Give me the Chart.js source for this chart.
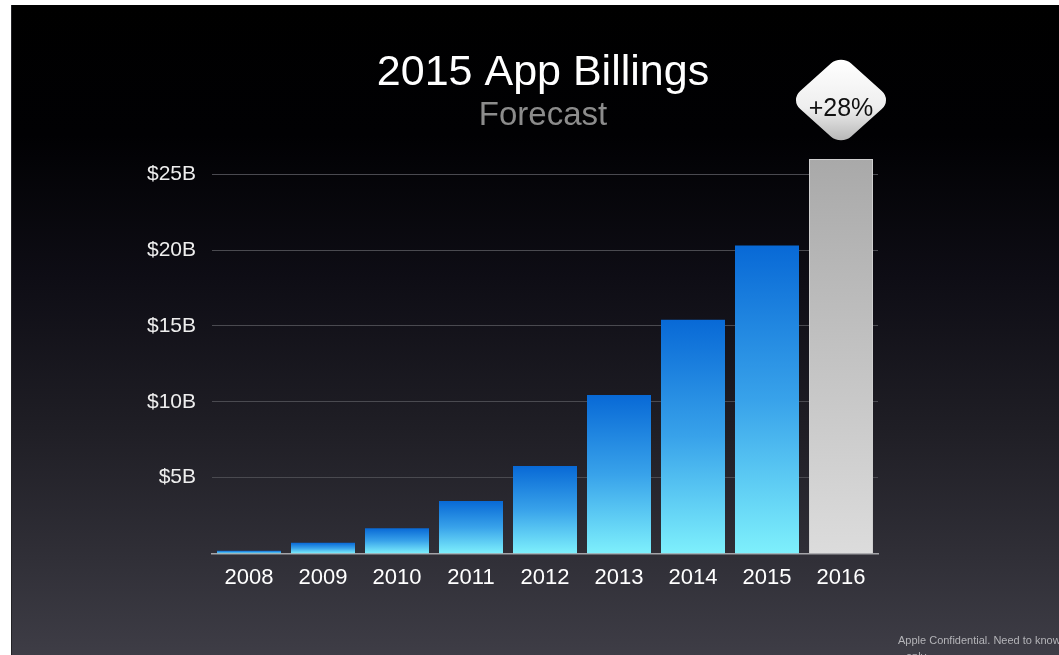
<!DOCTYPE html>
<html>
<head>
<meta charset="utf-8">
<title>2015 App Billings</title>
<script src="https://cdn.jsdelivr.net/npm/chart.js@4.4.0/dist/chart.umd.min.js"></script>
<style>
  html, body { margin: 0; padding: 0; background: #fff; overflow: hidden; }
  #slide {
    position: absolute; left: 11px; top: 5px; right: 0; bottom: 0;
    border-left: 1px solid #222226;
    background: linear-gradient(to bottom, #000 0%, #010103 20%, #0e0d15 42%, #1f1e25 65%, #302f37 85%, #3e3d46 100%);
  }
  #billingsChart { position: absolute; left: 0; top: 0; }
</style>
</head>
<body>
<div id="slide"></div>
<canvas id="billingsChart" width="1059" height="655"></canvas>
<script>
// App billings in $B, last year is the forecast
const years = ['2008', '2009', '2010', '2011', '2012', '2013', '2014', '2015', '2016'];
const billings = [0.18, 0.71, 1.67, 3.46, 5.77, 10.45, 15.4, 20.3, 26.0];
const yTicks = [5, 10, 15, 20, 25];
const forecastIndex = 8;

const font = '"Liberation Sans", Arial, Helvetica, sans-serif';

function barFill(c) {
  const chart = c.chart;
  const yScale = chart.scales.y;
  if (c.type !== 'data' || !chart.chartArea || !yScale) return '#1a7fe0';
  const top = yScale.getPixelForValue(c.raw);
  const base = yScale.getPixelForValue(0);
  const g = chart.ctx.createLinearGradient(0, top, 0, base);
  if (c.dataIndex === forecastIndex) {
    g.addColorStop(0, '#a9a9a9');
    g.addColorStop(1, '#dcdcdc');
  } else {
    g.addColorStop(0, '#0869d6');
    g.addColorStop(0.5, '#38a2ea');
    g.addColorStop(1, '#7ef0fc');
  }
  return g;
}

// title, growth badge and footer note
const decorations = {
  id: 'decorations',
  afterDatasetsDraw(chart) {
    const ctx = chart.ctx;
    ctx.save();
    ctx.textAlign = 'center';
    ctx.textBaseline = 'alphabetic';
    ctx.fillStyle = '#ffffff';
    ctx.font = '43px ' + font;
    ctx.fillText('2015 App Billings', 543, 85);
    ctx.fillStyle = '#8c8c8c';
    ctx.font = '33px ' + font;
    ctx.fillText('Forecast', 543, 125);

    // rounded diamond above the forecast bar
    const bx = chart.scales.x.getPixelForValue(forecastIndex);
    const by = 100;
    const s = 70, r = 14;
    ctx.save();
    ctx.translate(bx, by);
    ctx.scale(1.03, 0.92);
    ctx.rotate(Math.PI / 4);
    ctx.beginPath();
    ctx.roundRect(-s / 2, -s / 2, s, s, r);
    ctx.restore();
    const g = ctx.createLinearGradient(0, by - 40, 0, by + 40);
    g.addColorStop(0, '#ffffff');
    g.addColorStop(0.6, '#eeeeee');
    g.addColorStop(1, '#b8b8b8');
    ctx.fillStyle = g;
    ctx.fill();

    const prev = billings[forecastIndex - 1];
    const growth = Math.round((billings[forecastIndex] / prev - 1) * 100);
    ctx.fillStyle = '#111111';
    ctx.font = '25px ' + font;
    ctx.textBaseline = 'middle';
    ctx.fillText('+' + growth + '%', bx, by + 9);

    ctx.textAlign = 'left';
    ctx.textBaseline = 'alphabetic';
    ctx.fillStyle = '#b4b4b8';
    ctx.font = '11px ' + font;
    ctx.fillText('Apple Confidential. Need to know', 898, 644);
    ctx.fillText('only', 906, 660);
    ctx.restore();
  }
};

const chartCtx = document.getElementById('billingsChart').getContext('2d');
const billingsChart = new Chart(chartCtx, {
  type: 'bar',
  data: {
    labels: years,
    datasets: [{
      label: 'App Billings',
      data: billings,
      backgroundColor: barFill,
      borderColor: (c) => c.dataIndex === forecastIndex ? '#cfcfcf' : 'rgba(0,0,0,0)',
      borderWidth: (c) => c.dataIndex === forecastIndex ? 1 : 0,
      barPercentage: 0.865,
      categoryPercentage: 1,
    }],
  },
  options: {
    responsive: false,
    animation: false,
    layout: {
      padding: { left: 0, right: 181, top: 156, bottom: 0 },
    },
    plugins: {
      legend: { display: false },
      title: { display: false },
      tooltip: { enabled: false },
    },
    scales: {
      x: {
        grid: { display: false, drawTicks: false },
        border: { display: true, color: '#a4a4a8', width: 1.5 },
        ticks: {
          color: '#ffffff',
          font: { family: font, size: 22 },
          padding: 11,
        },
        afterFit(scale) { scale.height = 101.5; },
      },
      y: {
        min: 0,
        max: 26.2,
        grid: { color: '#4a4a50', lineWidth: 1, drawTicks: false },
        border: { display: false },
        ticks: {
          color: '#eeeeee',
          font: { family: font, size: 21 },
          padding: 16,
          callback: (v) => '$' + v + 'B',
        },
        afterBuildTicks(scale) {
          scale.ticks = yTicks.map((v) => ({ value: v }));
        },
        afterFit(scale) { scale.width = 212; },
      },
    },
  },
  plugins: [decorations],
});
</script>
</body>
</html>
